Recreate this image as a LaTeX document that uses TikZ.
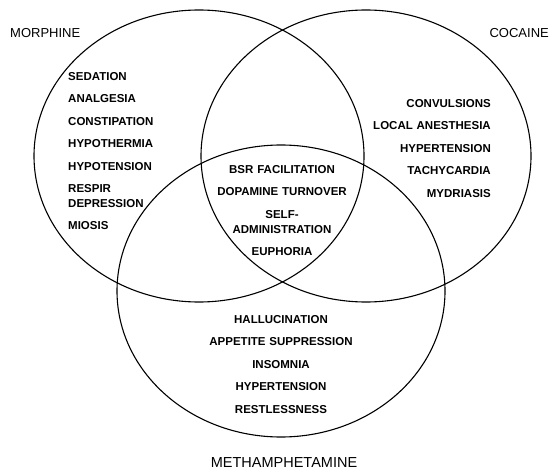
\documentclass[tikz,border=0pt]{standalone}
\usepackage{fontspec}
\setmainfont{Liberation Sans}
\usetikzlibrary{positioning}

\begin{document}
\begin{tikzpicture}[
        x=1pt, y=-1pt,
        node distance=13pt,
        ring/.style={draw=black, line width=1.1pt},
        drug/.style={font=\fontsize{13}{15}\selectfont, inner sep=0pt},
        effect/.style={
          font=\bfseries\fontsize{11.5}{15}\selectfont,
          inner sep=0pt,
          text height=9pt,
          text depth=0pt
        },
        twoline/.style={text depth=15pt},
        leftcol/.style={effect, align=left, text width=95pt},
        rightcol/.style={effect, align=right, text width=130pt},
        midcol/.style={effect, align=center, text width=150pt}
      ]
        \useasboundingbox (0,0) rectangle (553,473);

        \coordinate (morphc) at (199,156);
        \coordinate (cocc) at (366,156);
        \coordinate (methc) at (281,291);
        \draw[ring] (morphc) ellipse [x radius=165pt, y radius=146pt];
        \draw[ring] (cocc) ellipse [x radius=165pt, y radius=146pt];
        \draw[ring] (methc) ellipse [x radius=164pt, y radius=146pt];

        \node[drug, anchor=west] (morphine) at (10,33) {MORPHINE};
        \node[drug, anchor=east] (cocaine) at (549,33) {COCAINE};
        \node[drug, font=\fontsize{14.5}{15}\selectfont] (meth) at (284,463) {METHAMPHETAMINE};

        \node[leftcol, anchor=west] (sedation) at (68,76) {SEDATION};
        \node[leftcol, below=of sedation] (analgesia) {ANALGESIA};
        \node[leftcol, below=of analgesia] (constip) {CONSTIPATION};
        \node[leftcol, below=of constip] (hypotherm) {HYPOTHERMIA};
        \node[leftcol, below=of hypotherm] (hypotens) {HYPOTENSION};
        \node[leftcol, twoline, below=of hypotens] (respir) {RESPIR\\DEPRESSION};
        \node[leftcol, below=of respir] (miosis) {MIOSIS};

        \node[rightcol, anchor=east] (convuls) at (491,103) {CONVULSIONS};
        \node[rightcol, below=of convuls] (localan) {LOCAL ANESTHESIA};
        \node[rightcol, below=of localan] (hypertc) {HYPERTENSION};
        \node[rightcol, below=of hypertc] (tachy) {TACHYCARDIA};
        \node[rightcol, below=of tachy] (mydri) {MYDRIASIS};

        \node[midcol] (bsr) at (282,169) {BSR FACILITATION};
        \node[midcol, below=of bsr] (dopa) {DOPAMINE TURNOVER};
        \node[midcol, twoline, below=of dopa] (selfadm) {SELF-\\ADMINISTRATION};
        \node[midcol, below=of selfadm] (euph) {EUPHORIA};

        \node[midcol] (halluc) at (281,319) {HALLUCINATION};
        \node[midcol, below=of halluc] (appet) {APPETITE SUPPRESSION};
        \node[midcol, below=of appet] (insom) {INSOMNIA};
        \node[midcol, below=of insom] (hypertm) {HYPERTENSION};
        \node[midcol, below=of hypertm] (restless) {RESTLESSNESS};
      \end{tikzpicture}
\end{document}
